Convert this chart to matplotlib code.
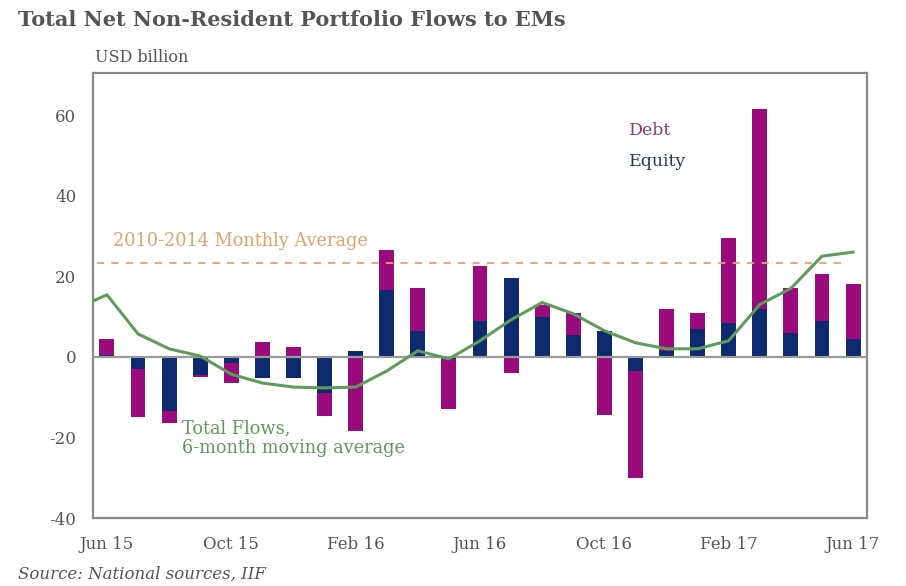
import numpy as np
import matplotlib
matplotlib.use("Agg")
import matplotlib.pyplot as plt

plt.rcParams['font.family'] = ['DejaVu Serif']
plt.rcParams['axes.unicode_minus'] = False

# monthly flows, Jun 15 .. Jun 17 (USD billion)
months = ["Jun 15", "Jul 15", "Aug 15", "Sep 15", "Oct 15", "Nov 15", "Dec 15",
          "Jan 16", "Feb 16", "Mar 16", "Apr 16", "May 16", "Jun 16", "Jul 16",
          "Aug 16", "Sep 16", "Oct 16", "Nov 16", "Dec 16", "Jan 17", "Feb 17",
          "Mar 17", "Apr 17", "May 17", "Jun 17"]
equity = [0.5, -3, -13.5, -4.5, -1.5, -5.2, -5.2, -9, 1.5, 16.5, 6.5, -0.5, 9,
          19.5, 10, 5.5, 6.5, -3.5, 1.5, 7, 8.5, 12, 6, 9, 4.5]
debt = [4, -12, -3, -0.5, -5, 3.8, 2.5, -5.8, -18.5, 10, 10.5, -12.5, 13.5,
        -4, 3, 5.5, -14.5, -26.5, 10.5, 4, 21, 49.5, 11, 11.5, 13.5]

# 6-month moving average of total flows, starting May 15
ma_total = [12, 15.4, 5.7, 2, 0.2, -4.3, -6.5, -7.5, -7.7, -7.5, -3.5, 1.5,
            -0.5, 4, 9.2, 13.5, 10.7, 6.5, 3.5, 2, 2, 4, 13, 17, 25, 26]

avg_2010_2014 = 23.3
tick_months = ["Jun 15", "Oct 15", "Feb 16", "Jun 16", "Oct 16", "Feb 17", "Jun 17"]

debt_col = "#990a7c"
equity_col = "#0e2a6e"
line_col = "#5f9c5c"
avg_col = "#e2a26c"
grey = "#555555"

fig = plt.figure(figsize=(9.06, 5.86), dpi=100)
ax = fig.add_axes([0.1026, 0.116, 0.8544, 0.759])

x = np.arange(len(months))
eq = np.array(equity)
db = np.array(debt)
# debt sits on top of equity when both go the same way, else starts at zero
db_bottom = np.where(np.sign(db) == np.sign(eq), eq, 0)

ax.bar(x, eq, width=0.48, color=equity_col, zorder=2)
ax.bar(x, db, bottom=db_bottom, width=0.48, color=debt_col, zorder=2)
ax.axhline(0, color="#9a9a9a", lw=1.6, zorder=3)

ax.plot(np.arange(-1, len(months)), ma_total, color=line_col, lw=2.2, zorder=4)
ax.hlines(avg_2010_2014, -0.32, 23.85, colors=avg_col, lw=1.3,
          linestyles=(0, (4, 4)), zorder=4)

ax.set_xlim(-0.45, 24.45)
ax.set_ylim(-40, 70.4)
ax.set_yticks([-40, -20, 0, 20, 40, 60])
ax.set_xticks([months.index(m) for m in tick_months])
ax.set_xticklabels(tick_months)
ax.tick_params(length=0, labelsize=12, colors=grey)
ax.tick_params(axis="y", pad=12)
ax.tick_params(axis="x", pad=13)
for s in ax.spines.values():
    s.set_color("#8a8a8a")
    s.set_linewidth(1.6)

ax.text(0.2, 27.5, "2010-2014 Monthly Average", color=avg_col, fontsize=12.8)
ax.text(2.4, -15.5, "Total Flows,\n6-month moving average", color=line_col,
        fontsize=12.8, va="top", linespacing=1.1)
ax.text(16.8, 55, "Debt", color="#8a3a7e", fontsize=12.5)
ax.text(16.8, 47.5, "Equity", color="#2b3560", fontsize=12.5)

fig.text(0.02, 0.955, "Total Net Non-Resident Portfolio Flows to EMs",
         fontsize=15, fontweight="bold", color=grey)
fig.text(0.105, 0.895, "USD billion", fontsize=11.5, color=grey)
fig.text(0.02, 0.012, "Source: National sources, IIF", fontsize=12,
         style="italic", color=grey)

fig.savefig("out.png", dpi=100)
